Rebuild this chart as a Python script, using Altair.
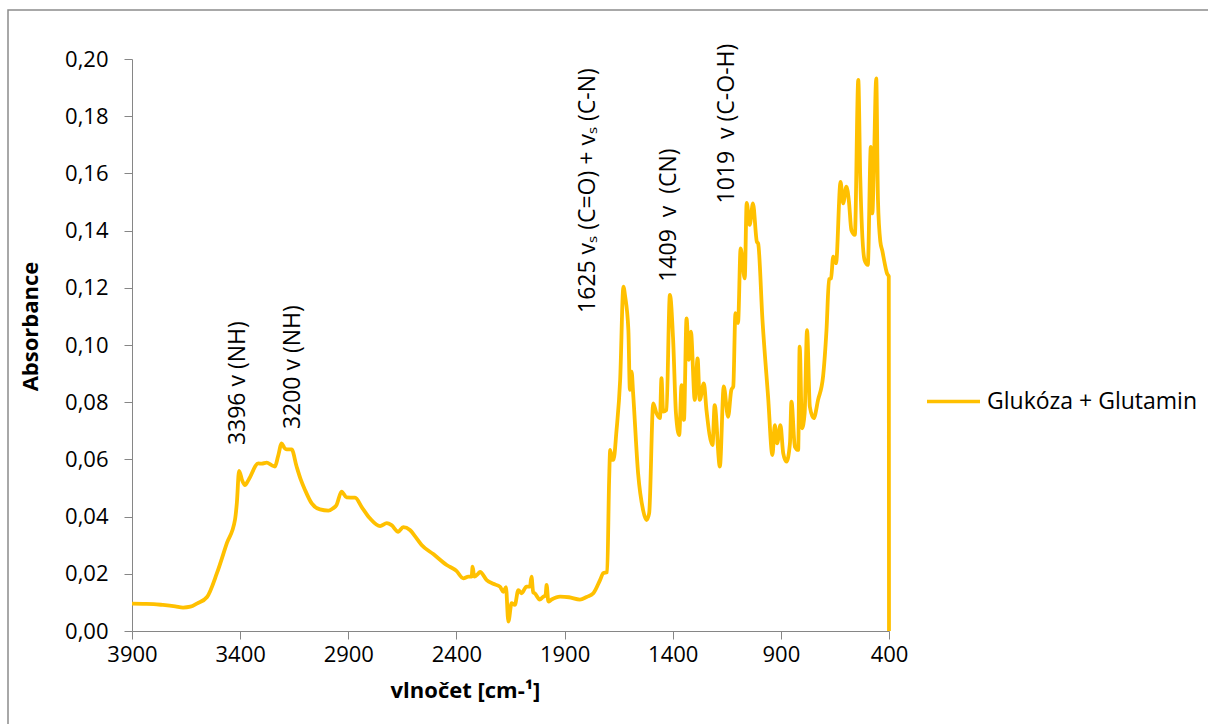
import altair as alt
import pandas as pd

# Spectrum
wavenumber = [3900, 3850, 3800, 3757, 3700, 3664, 3630, 3600, 3553, 3507, 3461, 3424, 3415, 3405,
              3390, 3378, 3360, 3316, 3300, 3277, 3255, 3239, 3225, 3208, 3195, 3185, 3162, 3139,
              3120, 3100, 3069, 3031, 2992, 2970, 2955, 2931, 2908, 2869, 2835, 2800, 2753, 2722,
              2700, 2669, 2646, 2615, 2590, 2561, 2507, 2445, 2400, 2368, 2345, 2330, 2325, 2318,
              2300, 2291, 2260, 2230, 2199, 2183, 2171, 2160, 2145, 2130, 2114, 2099, 2076, 2060,
              2053, 2045, 2038, 2015, 2000, 1988, 1983, 1975, 1960, 1921, 1880, 1829, 1798, 1767,
              1736, 1721, 1703, 1694, 1689, 1680, 1674, 1660, 1643, 1628, 1620, 1605, 1598, 1590,
              1583, 1560, 1537, 1521, 1509, 1490, 1475, 1459, 1452, 1444, 1429, 1413, 1398, 1385,
              1370, 1359, 1348, 1336, 1325, 1316, 1298, 1285, 1275, 1256, 1244, 1216, 1206, 1182,
              1164, 1144, 1129, 1120, 1110, 1098, 1086, 1067, 1058, 1044, 1029, 1011, 1005, 985,
              959, 939, 928, 917, 902, 889, 874, 858, 851, 835, 820, 813, 802, 790, 779, 766, 748,
              728, 705, 689, 677, 668, 658, 645, 624, 612, 597, 585, 574, 558, 542, 533, 513, 498,
              484, 477, 470, 459, 451, 440, 431, 420, 409, 401, 400]
absorbance = [0.0096, 0.0095, 0.0094, 0.0091, 0.0086, 0.0082, 0.0085, 0.0096, 0.0119, 0.0203, 0.0308,
              0.0388, 0.0450, 0.0560, 0.0525, 0.0510, 0.0530, 0.0586, 0.0585, 0.0589, 0.0580, 0.0575,
              0.0610, 0.0656, 0.0640, 0.0635, 0.0635, 0.0575, 0.0530, 0.0493, 0.0446, 0.0425, 0.0421,
              0.0429, 0.0440, 0.0487, 0.0467, 0.0466, 0.0430, 0.0394, 0.0367, 0.0377, 0.0370, 0.0347,
              0.0363, 0.0353, 0.0330, 0.0301, 0.0269, 0.0231, 0.0210, 0.0184, 0.0190, 0.0190, 0.0225,
              0.0190, 0.0200, 0.0207, 0.0178, 0.0165, 0.0155, 0.0137, 0.0153, 0.0033, 0.0097, 0.0091,
              0.0143, 0.0132, 0.0155, 0.0155, 0.0190, 0.0135, 0.0132, 0.0110, 0.0119, 0.0125, 0.0161,
              0.0103, 0.0110, 0.0120, 0.0118, 0.0110, 0.0119, 0.0132, 0.0178, 0.0202, 0.0206, 0.0528,
              0.0633, 0.0598, 0.0598, 0.0700, 0.0878, 0.1204, 0.1170, 0.1052, 0.0843, 0.0907, 0.0831,
              0.0551, 0.0423, 0.0388, 0.0411, 0.0796, 0.0761, 0.0744, 0.0884, 0.0767, 0.0773, 0.1175,
              0.1017, 0.0761, 0.0685, 0.0860, 0.0738, 0.1093, 0.0948, 0.1047, 0.0808, 0.0953, 0.0808,
              0.0866, 0.0773, 0.0650, 0.0790, 0.0575, 0.0855, 0.0749, 0.0843, 0.0855, 0.1111, 0.1077,
              0.1338, 0.1233, 0.1497, 0.1420, 0.1495, 0.1361, 0.1355, 0.1087, 0.0819, 0.0615, 0.0720,
              0.0656, 0.0720, 0.0621, 0.0592, 0.0656, 0.0802, 0.0644, 0.0633, 0.0994, 0.0709, 0.0761,
              0.1052, 0.0784, 0.0744, 0.0808, 0.0889, 0.1052, 0.1230, 0.1233, 0.1309, 0.1286, 0.1570,
              0.1495, 0.1554, 0.1500, 0.1402, 0.1385, 0.1927, 0.1589, 0.1297, 0.1280, 0.1693, 0.1460,
              0.1620, 0.1932, 0.1507, 0.1361, 0.1330, 0.1286, 0.1250, 0.1240, 0.0]
series_name = "Glukóza + Glutamin"

# Peak annotations
ann_text = ["3396 v (NH)", "3200 v (NH)", "1625 vₛ (C=O) + vₛ (C-N)",
            "1409\u00a0 v\u00a0 (CN)", "1019\u00a0 v (C-O-H)"]
ann_x = [3408, 3154, 1790, 1417, 1151]
ann_y = [0.0650, 0.0706, 0.1112, 0.1221, 0.1495]

x_ticks = [3900, 3400, 2900, 2400, 1900, 1400, 900, 400]
y_ticks = [0.00, 0.02, 0.04, 0.06, 0.08, 0.10, 0.12, 0.14, 0.16, 0.18, 0.20]

FONT = "Open Sans"
GRAY = "#868686"
GOLD = "#FFC000"

df = pd.DataFrame({"w": wavenumber, "a": absorbance, "s": series_name})
ann = pd.DataFrame({"t": ann_text, "w": ann_x, "a": ann_y})

xscale = alt.Scale(domain=[400, 3900], reverse=True, nice=False, zero=False)
yscale = alt.Scale(domain=[0, 0.2], nice=False)

xaxis = alt.Axis(values=x_ticks, format="d", title="vlnočet [cm-¹]", grid=False,
                 domainColor=GRAY, tickColor=GRAY, tickSize=8, labelPadding=5,
                 labelFont=FONT, labelFontSize=22, labelColor="black",
                 titleFont=FONT, titleFontSize=22, titleFontWeight="bold", titleColor="black",
                 titleX=333, titleY=59, titleBaseline="middle", titleAnchor="middle",
                 labelFlush=False, labelOverlap=False)
yaxis = alt.Axis(values=y_ticks, title="Absorbance", grid=False,
                 labelExpr="replace(format(datum.value, '.2f'), '.', ',')",
                 domainColor=GRAY, tickColor=GRAY, tickSize=8, labelPadding=16,
                 labelFont=FONT, labelFontSize=22, labelColor="black",
                 titleFont=FONT, titleFontSize=22, titleFontWeight="bold", titleColor="black",
                 titleX=-102, titleY=267, titleBaseline="middle", titleAngle=270,
                 labelFlush=False, labelOverlap=False)

frame = alt.Chart(pd.DataFrame({"k": [0]})).mark_rect(
    fill=None, stroke="#8c8c8c", strokeWidth=1.5
).encode(x=alt.value(-124), x2=alt.value(1083), y=alt.value(-49), y2=alt.value(671))

line = alt.Chart(df).mark_line(strokeWidth=3.8, interpolate="monotone").encode(
    x=alt.X("w:Q", scale=xscale, axis=xaxis),
    y=alt.Y("a:Q", scale=yscale, axis=yaxis),
    color=alt.Color("s:N", scale=alt.Scale(range=[GOLD]),
                    legend=alt.Legend(title=None, orient="none", legendX=793, legendY=314,
                                      symbolType="stroke", symbolSize=2809,
                                      symbolStrokeWidth=3.6, labelOffset=5, padding=0,
                                      labelFont=FONT, labelFontSize=23, labelColor="black",
                                      labelLimit=400)),
    order=alt.Order("w:Q", sort="descending"),
)

labels = alt.Chart(ann).mark_text(
    angle=270, align="left", baseline="middle", font=FONT, fontSize=23, color="black"
).encode(
    x=alt.X("w:Q", scale=xscale),
    y=alt.Y("a:Q", scale=yscale),
    text="t:N",
)

chart = alt.layer(frame, line, labels).properties(
    width=757, height=572,
    autosize=alt.AutoSizeParams(type="none"),
    padding={"left": 132, "top": 59, "right": 319, "bottom": 93},
).configure(background="white", view=alt.ViewConfig(stroke=None))

chart.save("out.html", embed_options={"renderer": "svg", "actions": False})
